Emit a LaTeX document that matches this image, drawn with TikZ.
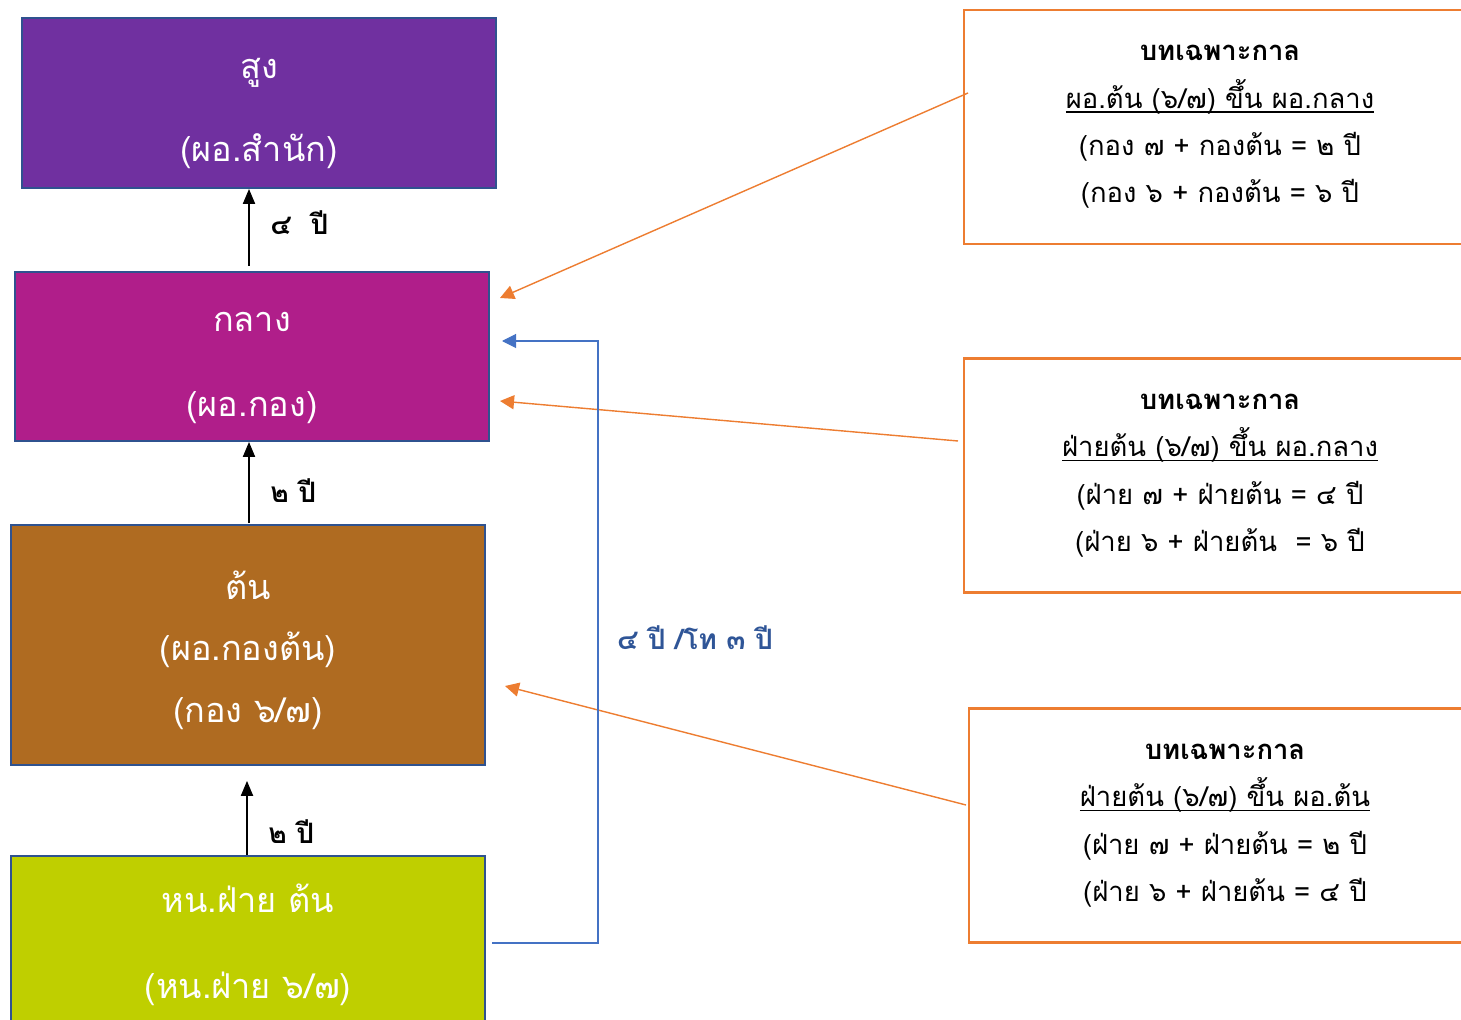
\documentclass[tikz,border=0pt]{standalone}
\usepackage{fontspec}
\newfontfamily\thaifont[Script=Thai]{Loma}
\usetikzlibrary{arrows.meta,positioning}
\definecolor{sungpurple}{HTML}{7030A0}
\definecolor{klangmag}{HTML}{B01E8A}
\definecolor{tonbrown}{HTML}{AF6B21}
\definecolor{hnlime}{HTML}{BFCF00}
\definecolor{boxedge}{HTML}{2F528F}
\definecolor{noteorange}{HTML}{ED7D31}
\definecolor{linkblue}{HTML}{4472C4}
\definecolor{labelblue}{HTML}{2F5597}
% underline that sits close to the baseline
\newcommand{\noteul}[1]{\leavevmode\setbox0\hbox{#1}\rlap{\rule[-2.6pt]{\wd0}{0.7pt}}\box0}

\begin{document}
\begin{tikzpicture}[x=0.02cm,y=-0.02cm,font=\thaifont,
    level box/.style={rectangle,draw=boxedge,line width=1.2pt,minimum width=9.48cm,inner sep=0pt},
    level text/.style={text=white,align=center,inner sep=0pt,font=\thaifont\fontsize{19.5}{35}\selectfont},
    note box/.style={rectangle,draw=noteorange,line width=1.3pt,fill=white,minimum width=10.24cm,
      minimum height=4.68cm,align=center,inner sep=0pt,font=\thaifont\fontsize{15.6}{27}\selectfont},
    up arrow/.style={draw,line width=0.6pt,-{Triangle[length=8.5pt,width=7pt]}},
    note arrow/.style={draw=noteorange,line width=0.8pt,-{Triangle[length=8pt,width=8pt]}},
    blue link/.style={draw=linkblue,line width=0.6pt,-{Triangle[length=8pt,width=8pt]}},
    year label/.style={font=\thaifont\bfseries\fontsize{16}{20}\selectfont,right=0.30cm}]
    \useasboundingbox (0,0) rectangle (1461,1020);
    \clip (0,0) rectangle (1461,1020);

    % levels
    \node[level box,fill=sungpurple,minimum height=3.4cm,
      label={[level text,yshift=-6pt]center:สูง\\[12pt](ผอ.สำนัก)}] (sung) at (259,103) {};
    \node[level box,fill=klangmag,minimum height=3.38cm,
      label={[level text,yshift=-6.5pt]center:กลาง\\[13pt](ผอ.กอง)}] (klang) at (252,356.5) {};
    \node[level box,fill=tonbrown,minimum height=4.8cm,
      label={[level text,yshift=-3pt]center:ต้น\\(ผอ.กองต้น)\\(กอง ๖/๗)}] (ton) at (248,645) {};
    \node[level box,fill=hnlime,minimum height=3.56cm,
      label={[level text]center:หน.ฝ่าย ต้น\\[14pt](หน.ฝ่าย ๖/๗)}] (hn) at (248,945) {};

    % notes
    \node[note box] (note1) at (1220,127) {\textbf{บทเฉพาะกาล}\\\noteul{ผอ.ต้น (๖/๗) ขึ้น ผอ.กลาง}\\(กอง ๗ + กองต้น = ๒ ปี\\(กอง ๖ + กองต้น = ๖ ปี};
    \node[note box] (note2) at (1220,475.5) {\textbf{บทเฉพาะกาล}\\\noteul{ฝ่ายต้น (๖/๗) ขึ้น ผอ.กลาง}\\(ฝ่าย ๗ + ฝ่ายต้น = ๔ ปี\\(ฝ่าย ๖ + ฝ่ายต้น~ = ๖ ปี};
    \node[note box] (note3) at (1225,825.5) {\textbf{บทเฉพาะกาล}\\\noteul{ฝ่ายต้น (๖/๗) ขึ้น ผอ.ต้น}\\(ฝ่าย ๗ + ฝ่ายต้น = ๒ ปี\\(ฝ่าย ๖ + ฝ่ายต้น = ๔ ปี};

    % free ends
    \coordinate (klangtop) at (249,266);
    \coordinate (tontop) at (249,523);
    \coordinate (tonbelow) at (247,781);
    \coordinate (o1start) at (968,93);
    \coordinate (o1end) at (500,298);
    \coordinate (o2start) at (958,441);
    \coordinate (o2end) at (500,401);
    \coordinate (o3start) at (966,805);
    \coordinate (o3end) at (505,686);
    \coordinate (bluestart) at (492,943);
    \coordinate (blueend) at (502,341);

    \draw[up arrow] (klangtop) -- node[year label,yshift=3pt] {๔~ ปี} (sung.south -| klangtop);
    \draw[up arrow] (tontop) -- node[year label,yshift=-4.5pt] {๒ ปี} (klang.south -| tontop);
    \draw[up arrow] (hn.north -| tonbelow) -- node[year label,yshift=-7.5pt] {๒ ปี} (tonbelow);

    \draw[note arrow] (o1start) -- (o1end);
    \draw[note arrow] (o2start) -- (o2end);
    \draw[note arrow] (o3start) -- (o3end);

    \draw[blue link] (bluestart) -- ++(106,0) |- (blueend);
    \node[font=\thaifont\bfseries\fontsize{16}{20}\selectfont,text=labelblue] (bluelabel) at (695,638) {๔ ปี /โท ๓ ปี};
\end{tikzpicture}
\end{document}
